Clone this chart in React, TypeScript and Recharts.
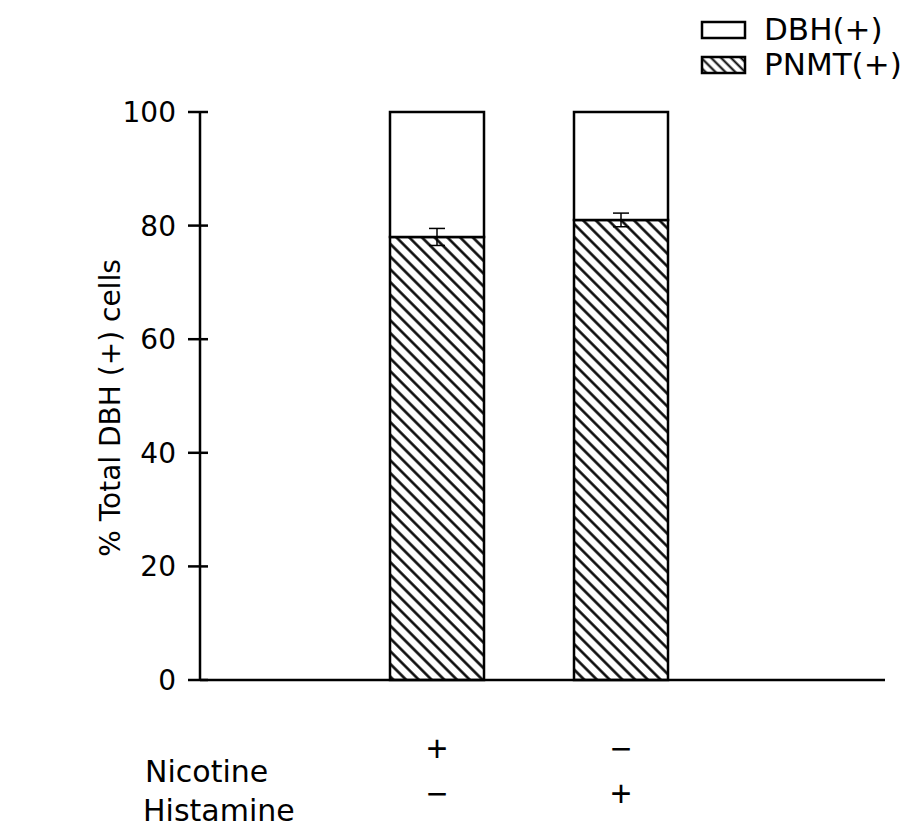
import React from 'react';
import { BarChart, Bar, XAxis, YAxis, ErrorBar } from 'recharts';

// treatment groups (one stacked bar each)
const groups = ['Nicotine', 'Histamine'];
const nicotineSigns = ['+', '\u2212'];
const histamineSigns = ['\u2212', '+'];

// % of total DBH(+) cells
const pnmtValues = [78, 81];
const pnmtErrors = [1.5, 1.2];
const dbhTotals = [100, 100];

const yTicks = [0, 20, 40, 60, 80, 100];

const data = groups.map((g, i) => ({
  name: g,
  nicotine: nicotineSigns[i],
  histamine: histamineSigns[i],
  pnmt: pnmtValues[i],
  pnmtErr: pnmtErrors[i],
  dbh: dbhTotals[i] - pnmtValues[i],
}));

const FONT = '"DejaVu Sans", sans-serif';

const YTick = ({ x, y, payload }: any) => (
  <g>
    <line x1={x - 10} x2={x + 10} y1={y} y2={y} stroke="#000" strokeWidth={2.5} />
    <text x={x - 22} y={y} dy="0.36em" textAnchor="end" fontSize={28} fontFamily={FONT} fill="#000">
      {payload.value}
    </text>
  </g>
);

const XTick = ({ x, y, index }: any) => (
  <g fontFamily='"Liberation Sans", sans-serif' fontSize={36} fill="#000" textAnchor="middle">
    <text x={x} y={y + 66} dy="0.36em">{data[index].nicotine}</text>
    <text x={x} y={y + 111} dy="0.36em">{data[index].histamine}</text>
  </g>
);

const RowLabels = ({ viewBox }: any) => (
  <g fontFamily={FONT} fontSize={30} fill="#000">
    <text x={viewBox.x - 55} y={viewBox.y + 102}>Nicotine</text>
    <text x={viewBox.x - 57} y={viewBox.y + 141}>Histamine</text>
  </g>
);

const YLabel = ({ viewBox }: any) => {
  const cx = viewBox.x + 102;
  const cy = viewBox.y + viewBox.height / 2 + 12;
  return (
    <text
      x={cx}
      y={cy}
      transform={`rotate(-90 ${cx} ${cy})`}
      textAnchor="middle"
      dominantBaseline="central"
      fontFamily={FONT}
      fontSize={28}
      fill="#000"
    >
      % Total DBH (+) cells
    </text>
  );
};

const LegendBox = () => (
  <div style={{ position: 'absolute', left: 692, top: 4, fontFamily: FONT, fontSize: 31, lineHeight: '35px' }}>
    <svg width={50} height={70} style={{ position: 'absolute', left: 0, top: 0 }}>
      <defs>
        <pattern id="hatchLegend" width={7} height={7} patternUnits="userSpaceOnUse" patternTransform="rotate(-45)">
          <rect width={7} height={7} fill="#fff" />
          <line x1={3.5} x2={3.5} y1={0} y2={7} stroke="#000" strokeWidth={2} />
        </pattern>
      </defs>
      <rect x={2} y={10} width={43} height={16} fill="#fff" stroke="#000" strokeWidth={2.5} />
      <rect x={2} y={45} width={43} height={16} fill="url(#hatchLegend)" stroke="#000" strokeWidth={2.5} />
    </svg>
    <div style={{ position: 'absolute', left: 64, top: 0, whiteSpace: 'nowrap' }}>
      <div>DBH(+)</div>
      <div>PNMT(+)</div>
    </div>
  </div>
);

export default function App() {
  return (
    <div style={{ position: 'relative', width: 895, height: 826, background: '#fff' }}>
      <BarChart
        width={895}
        height={826}
        data={data}
        margin={{ top: 104, right: 18, left: 0, bottom: 14 }}
        barSize={94}
      >
        <defs>
          <pattern id="hatch" width={9} height={9} patternUnits="userSpaceOnUse" patternTransform="rotate(-45)">
            <rect width={9} height={9} fill="#fff" />
            <line x1={4.5} x2={4.5} y1={0} y2={9} stroke="#000" strokeWidth={2.5} />
          </pattern>
        </defs>
        <XAxis
          dataKey="name"
          height={140}
          padding={{ left: 145, right: 172 }}
          axisLine={{ stroke: '#000', strokeWidth: 2.5 }}
          tickLine={false}
          tickSize={0}
          interval={0}
          tick={<XTick />}
          label={{ content: <RowLabels /> }}
        />
        <YAxis
          width={192}
          domain={[0, 100]}
          ticks={yTicks}
          axisLine={{ stroke: '#000', strokeWidth: 2.5 }}
          tickLine={false}
          tickSize={0}
          tick={<YTick />}
          label={{ content: <YLabel /> }}
        />
        <Bar dataKey="pnmt" stackId="a" fill="url(#hatch)" stroke="#000" strokeWidth={2.5} isAnimationActive={false}>
          <ErrorBar dataKey="pnmtErr" width={8} stroke="#000" strokeWidth={1.5} />
        </Bar>
        <Bar dataKey="dbh" stackId="a" fill="#fff" stroke="#000" strokeWidth={2.5} isAnimationActive={false} />
      </BarChart>
      <LegendBox />
    </div>
  );
}
